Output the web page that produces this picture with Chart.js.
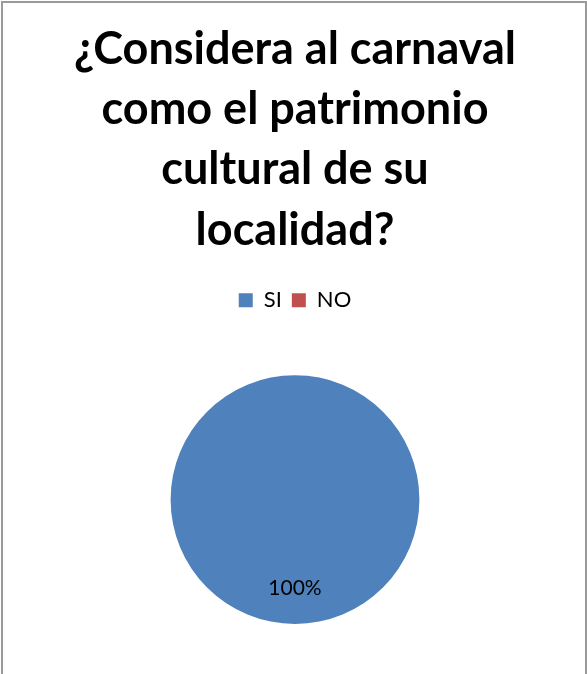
<!DOCTYPE html>
<html>
<head>
<meta charset="utf-8">
<script src="https://cdn.jsdelivr.net/npm/chart.js@4/dist/chart.umd.min.js"></script>
<style>
    html, body { margin: 0; padding: 0; background: #ffffff; overflow: hidden; }
    #wrap { position: absolute; left: 0; top: 0; width: 587px; height: 674px; }
    #frame {
        position: absolute; left: 1px; top: 1px; width: 582px; height: 700px;
        border: 2px solid #9a9a9a; border-bottom: none; pointer-events: none;
    }
</style>
</head>
<body>
<div id="wrap"><canvas id="chart" width="587" height="674"></canvas></div>
<div id="frame"></div>
<script>
const titleLines = ['¿Considera al carnaval', 'como el patrimonio', 'cultural de su', 'localidad?'];
const categories = ['SI', 'NO'];
const answers = [100, 0];
const sliceColors = ['#4F81BD', '#C0504D'];

// extra room under the legend before the pie starts
const legendGap = {
    id: 'legendGap',
    beforeInit(chart) {
        const fit = chart.legend.fit;
        chart.legend.fit = function () {
            fit.bind(chart.legend)();
            this.height += 54;
        };
    }
};

// percentage label inside each non-empty slice
const pctLabels = {
    id: 'pctLabels',
    afterDatasetsDraw(chart) {
        const ctx = chart.ctx;
        const data = chart.data.datasets[0].data;
        const total = data.reduce((a, b) => a + b, 0);
        chart.getDatasetMeta(0).data.forEach((arc, i) => {
            if (!data[i]) return;
            const p = arc.getProps(['x', 'y', 'startAngle', 'endAngle', 'outerRadius'], true);
            const mid = (p.startAngle + p.endAngle) / 2;
            const r = p.outerRadius * 0.71;
            ctx.save();
            ctx.font = '21px Lato';
            ctx.fillStyle = '#000000';
            ctx.textAlign = 'center';
            ctx.textBaseline = 'middle';
            ctx.fillText(Math.round(data[i] / total * 100) + '%', p.x + Math.cos(mid) * r, p.y + Math.sin(mid) * r);
            ctx.restore();
        });
    }
};

new Chart(document.getElementById('chart'), {
    type: 'pie',
    data: {
        labels: categories,
        datasets: [{
            data: answers,
            backgroundColor: sliceColors,
            borderWidth: 0
        }]
    },
    options: {
        responsive: false,
        animation: false,
        layout: { padding: { top: 0, bottom: 50, left: 3 } },
        plugins: {
            title: {
                display: true,
                text: titleLines,
                color: '#000000',
                font: { family: 'Lato', weight: 'bold', size: 45, lineHeight: 1.34 },
                padding: { top: 19, bottom: 19 }
            },
            legend: {
                display: true,
                position: 'top',
                labels: {
                    color: '#000000',
                    font: { family: 'Lato', size: 22 },
                    boxWidth: 14,
                    boxHeight: 14,
                    padding: 10
                }
            },
            tooltip: { enabled: false }
        }
    },
    plugins: [legendGap, pctLabels]
});
</script>
</body>
</html>
